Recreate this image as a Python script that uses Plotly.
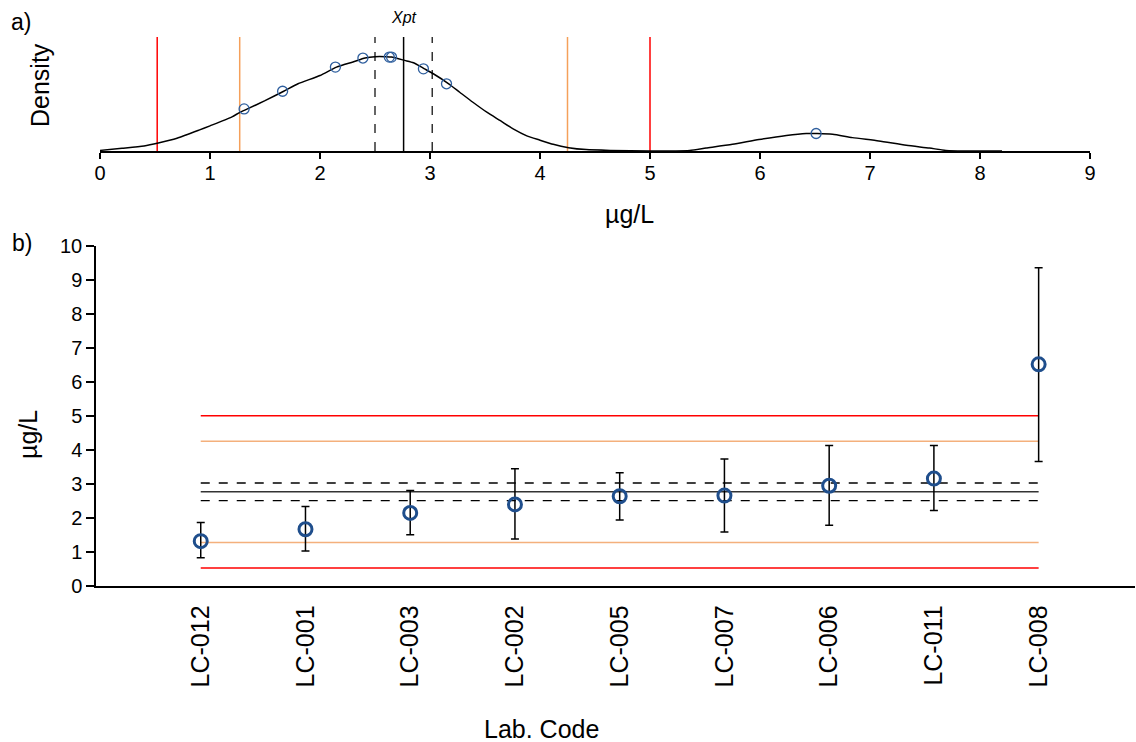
import plotly.graph_objects as go

# ---------------- data ----------------
lab_codes = ["LC-012", "LC-001", "LC-003", "LC-002", "LC-005", "LC-007", "LC-006", "LC-011", "LC-008"]
lab_values = [1.31, 1.66, 2.14, 2.39, 2.63, 2.65, 2.94, 3.15, 6.51]
upper_bound = [1.86, 2.33, 2.80, 3.44, 3.32, 3.73, 4.12, 4.12, 9.35]
lower_bound = [0.82, 1.02, 1.50, 1.37, 1.93, 1.58, 1.78, 2.21, 3.65]
point_density = [0.214, 0.304, 0.427, 0.473, 0.478, 0.478, 0.418, 0.342, 0.089]

xpt = 2.76
u_xpt_low, u_xpt_high = 2.50, 3.02
warn_low, warn_high = 1.27, 4.25
act_low, act_high = 0.52, 5.00

density_x = [0.0, 0.2, 0.4, 0.53, 0.7, 0.9, 1.0, 1.2, 1.27, 1.34, 1.5, 1.67, 1.8, 2.0, 2.15,
             2.3, 2.41, 2.5, 2.6, 2.65, 2.77, 2.85, 2.95, 3.03, 3.17, 3.27, 3.39, 3.52, 3.64,
             3.76, 3.88, 4.0, 4.12, 4.26, 4.42, 4.64, 5.0, 5.36, 5.51, 5.75, 5.99, 6.24, 6.42,
             6.52, 6.66, 6.84, 7.08, 7.33, 7.54, 7.69, 7.93, 8.2]
density_y = [0.003, 0.014, 0.026, 0.041, 0.065, 0.106, 0.128, 0.174, 0.196, 0.214, 0.256, 0.304,
             0.342, 0.384, 0.427, 0.453, 0.473, 0.480, 0.480, 0.478, 0.461, 0.449, 0.418, 0.393,
             0.342, 0.299, 0.248, 0.196, 0.154, 0.111, 0.077, 0.055, 0.034, 0.017, 0.007, 0.003,
             0.0, 0.003, 0.015, 0.034, 0.058, 0.079, 0.089, 0.089, 0.085, 0.068, 0.051, 0.029,
             0.015, 0.003, 0.0, 0.0]

x_ticks_top = [0, 1, 2, 3, 4, 5, 6, 7, 8, 9]
y_ticks_bottom = [0, 1, 2, 3, 4, 5, 6, 7, 8, 9, 10]
lab_positions = list(range(1, len(lab_codes) + 1))

# ---------------- styles ----------------
RED = "#FF0000"
ORANGE = "#F5A05A"
ORANGE2 = "#F4B07C"
BLUE = "#1F4E8C"
FONT = "Liberation Sans, Arial, sans-serif"
W, H = 1136, 742


def px_x(p):
    return p / W


def px_y(p):
    return 1 - p / H


fig = go.Figure()

# ---- panel a: density ----
fig.add_trace(go.Scatter(x=density_x, y=density_y, mode="lines",
                         line=dict(color="black", width=1.5, shape="spline", smoothing=0.6),
                         xaxis="x", yaxis="y", hoverinfo="skip"))
fig.add_trace(go.Scatter(x=lab_values, y=point_density, mode="markers",
                         marker=dict(symbol="circle-open", size=10, color="#2F5F9E",
                                     line=dict(width=1.3, color="#2F5F9E")),
                         xaxis="x", yaxis="y"))

shapes = []
vlines = [(act_low, RED, "solid", 1.5), (warn_low, ORANGE, "solid", 1.5),
          (u_xpt_low, "black", "dash", 1.2), (xpt, "black", "solid", 1.5),
          (u_xpt_high, "black", "dash", 1.2), (warn_high, ORANGE, "solid", 1.5),
          (act_high, RED, "solid", 1.5)]
for xv, col, dash, w in vlines:
    shapes.append(dict(type="line", xref="x", yref="y", x0=xv, x1=xv, y0=0, y1=0.58,
                       line=dict(color=col, width=w, dash=dash), layer="below"))

# ---- panel b: lab results ----
hlines = [(act_high, RED, "solid", 1.5), (warn_high, ORANGE2, "solid", 1.5),
          (u_xpt_high, "black", "dash", 1.3), (xpt, "#333333", "solid", 1.5),
          (u_xpt_low, "black", "dash", 1.3), (warn_low, ORANGE2, "solid", 1.5),
          (act_low, RED, "solid", 1.5)]
for yv, col, dash, w in hlines:
    shapes.append(dict(type="line", xref="x2", yref="y2", x0=lab_positions[0], x1=lab_positions[-1],
                       y0=yv, y1=yv, line=dict(color=col, width=w, dash=dash), layer="below"))

err_plus = [u - v for u, v in zip(upper_bound, lab_values)]
err_minus = [v - l for v, l in zip(lab_values, lower_bound)]
fig.add_trace(go.Scatter(x=lab_positions, y=lab_values, mode="markers",
                         marker=dict(symbol="circle-open", size=13, color=BLUE,
                                     line=dict(width=3, color=BLUE)),
                         error_y=dict(type="data", symmetric=False, array=err_plus,
                                      arrayminus=err_minus, color="black", thickness=1.5, width=4),
                         xaxis="x2", yaxis="y2"))

annotations = [
    dict(text="a)", x=px_x(21), y=px_y(22), xref="paper", yref="paper", showarrow=False,
         font=dict(size=23, family=FONT), xanchor="center", yanchor="middle"),
    dict(text="b)", x=px_x(22), y=px_y(243), xref="paper", yref="paper", showarrow=False,
         font=dict(size=23, family=FONT), xanchor="center", yanchor="middle"),
    dict(text="<i>Xpt</i>", x=xpt, y=px_y(17), xref="x", yref="paper", showarrow=False,
         font=dict(size=16, family=FONT), xanchor="center", yanchor="middle"),
    dict(text="Density", x=px_x(40), y=px_y(85), xref="paper", yref="paper", showarrow=False,
         textangle=-90, font=dict(size=25, family=FONT), xanchor="center", yanchor="middle"),
    dict(text="µg/L", x=px_x(629), y=px_y(214), xref="paper", yref="paper", showarrow=False,
         font=dict(size=25, family=FONT), xanchor="center", yanchor="middle"),
    dict(text="µg/L", x=px_x(28), y=px_y(434), xref="paper", yref="paper", showarrow=False,
         textangle=-90, font=dict(size=25, family=FONT), xanchor="center", yanchor="middle"),
    dict(text="Lab. Code", x=px_x(541), y=px_y(729), xref="paper", yref="paper", showarrow=False,
         font=dict(size=25, family=FONT), xanchor="center", yanchor="middle"),
]

fig.update_layout(
    template="none",
    width=W, height=H, autosize=False,
    margin=dict(l=0, r=0, t=0, b=0, pad=0, autoexpand=False),
    plot_bgcolor="white", paper_bgcolor="white",
    showlegend=False,
    font=dict(family=FONT, color="black"),
    shapes=shapes, annotations=annotations,
    xaxis=dict(domain=[px_x(100), px_x(1090)], range=[0, 9], anchor="y", automargin=False,
               tickvals=x_ticks_top, ticks="outside", ticklen=6, tickwidth=1.5, tickcolor="black",
               showline=True, linecolor="black", linewidth=1.5, showgrid=False, zeroline=False,
               tickfont=dict(size=20, family=FONT), ticklabelstandoff=-3),
    yaxis=dict(domain=[px_y(151), px_y(37)], range=[0, 0.58], anchor="x", automargin=False,
               showline=False, showticklabels=False, ticks="", showgrid=False, zeroline=False),
    xaxis2=dict(domain=[px_x(96), px_x(1135)], range=[0, 9.92], anchor="y2", automargin=False,
                tickvals=lab_positions, ticktext=lab_codes, tickangle=-90, ticks="",
                showline=True, linecolor="black", linewidth=1.5, showgrid=False, zeroline=False,
                tickfont=dict(size=25, family=FONT), ticklabelstandoff=8),
    yaxis2=dict(domain=[px_y(585.7), px_y(245.7)], range=[0, 10], anchor="x2", automargin=False,
                tickvals=y_ticks_bottom, ticks="outside", ticklen=8, tickwidth=1.5, tickcolor="black",
                showline=True, linecolor="black", linewidth=1.5, showgrid=False, zeroline=False,
                tickfont=dict(size=20, family=FONT)),
)

fig.write_html("out.html")
